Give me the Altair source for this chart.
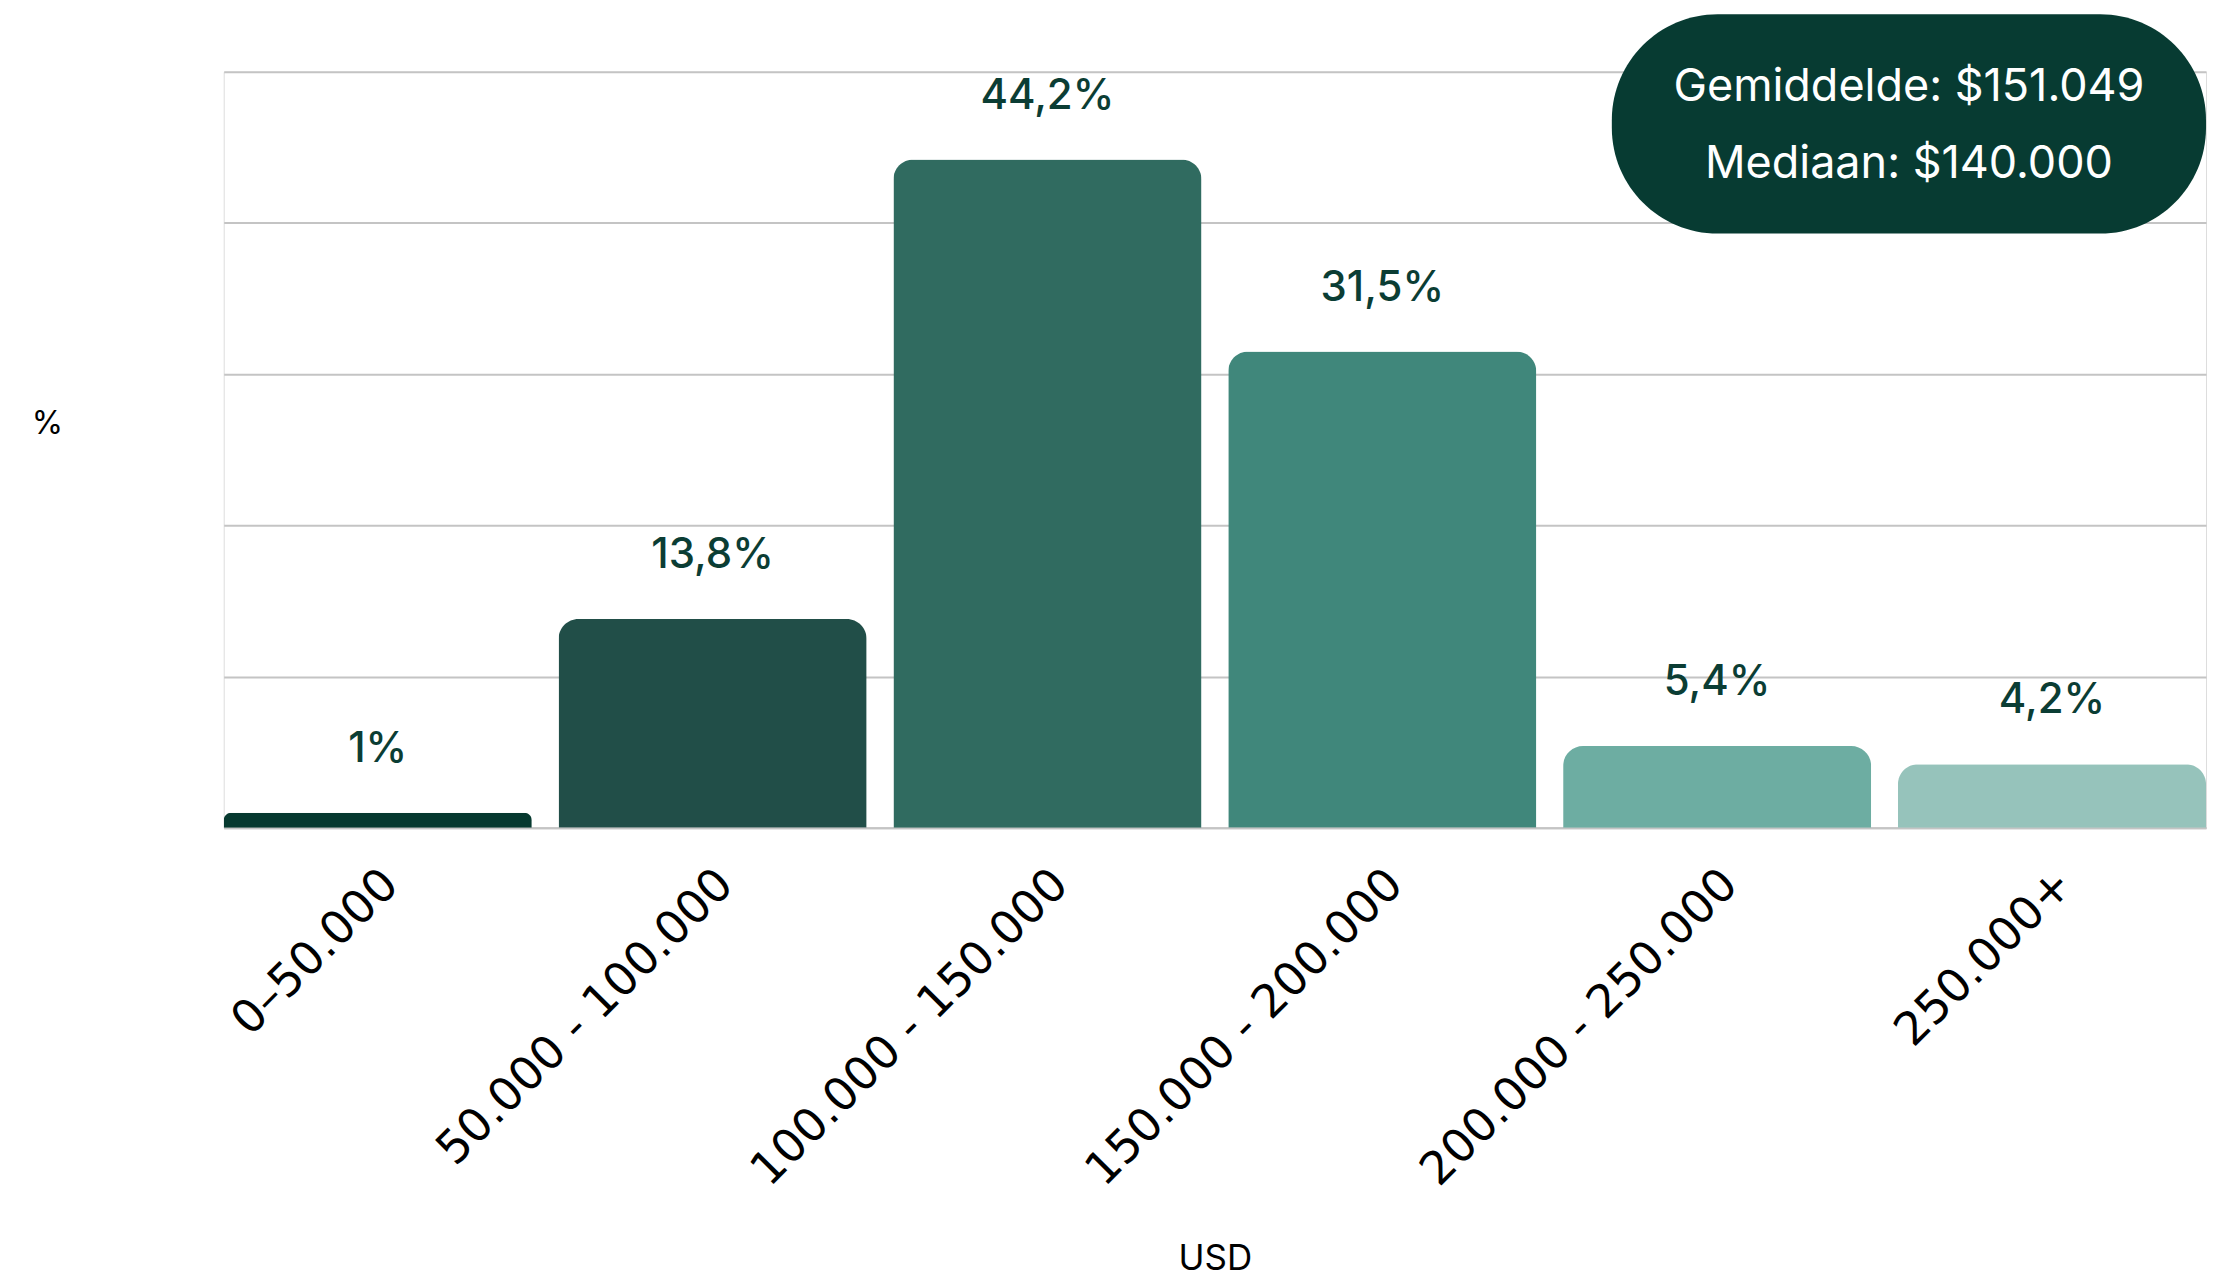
import altair as alt
import pandas as pd

categories = ["0–50.000", "50.000 - 100.000", "100.000 - 150.000",
              "150.000 - 200.000", "200.000 - 250.000", "250.000+"]
values = [1.0, 13.8, 44.2, 31.5, 5.4, 4.2]
value_labels = ["1%", "13,8%", "44,2%", "31,5%", "5,4%", "4,2%"]
bar_colors = ["#06392f", "#214e48", "#306b60", "#40877b", "#6dada2", "#96c3bb"]
y_ticks = [0, 10, 20, 30, 40, 50]

annotation_lines = ["Gemiddelde: $151.049", "Mediaan: $140.000"]
annotation_line_y = [49.0, 43.9]
annotation_box_top = 53.8
annotation_box_bottom = 39.3

df = pd.DataFrame({"cat": categories, "value": values, "label": value_labels})
box_df = pd.DataFrame({"top": [annotation_box_top], "bottom": [annotation_box_bottom]})
text_df = pd.DataFrame({"txt": annotation_lines, "y": annotation_line_y})

FONT = "Inter"
AXIS_FONT = "DejaVu Sans"
PLOT_W = 1985
PLOT_H = 757

x_enc = alt.X(
    "cat:N", sort=categories,
    scale=alt.Scale(paddingInner=0.08, paddingOuter=0),
    axis=alt.Axis(
        labelAngle=-45, labelAlign="right", labelBaseline="middle",
        labelFontSize=46, labelFont=AXIS_FONT, labelColor="#000000",
        labelPadding=49, labelOffset=13, labelLimit=0, ticks=False,
        domainColor="#c4c4c4", domainWidth=2,
        title="USD", titleFont=FONT, titleFontSize=35, titleFontWeight="normal",
        titleColor="#000000", titleY=431, titleBaseline="middle",
    ),
)
y_enc = alt.Y(
    "value:Q",
    scale=alt.Scale(domain=[0, 50], nice=False),
    axis=alt.Axis(
        values=y_ticks, labels=False, ticks=False, domain=False,
        grid=True, gridColor="#c4c4c4", gridWidth=2,
        title="%", titleAngle=0, titleX=-177, titleY=352,
        titleAlign="center", titleBaseline="middle",
        titleFont=FONT, titleFontSize=32, titleFontWeight="normal", titleColor="#000000",
    ),
)

base = alt.Chart(df)

bars = base.mark_bar(cornerRadiusTopLeft=20, cornerRadiusTopRight=20).encode(
    x=x_enc,
    y=y_enc,
    color=alt.Color("cat:N", scale=alt.Scale(domain=categories, range=bar_colors), legend=None),
)

labels = base.mark_text(
    font=FONT, fontSize=42, fontWeight=500, color="#0b3d34",
    baseline="bottom", dy=-42,
).encode(
    x=alt.X("cat:N", sort=categories),
    y=alt.Y("value:Q"),
    text="label:N",
)

box = alt.Chart(box_df).mark_rect(
    color="#073b32", cornerRadius=106, clip=False
).encode(
    x=alt.value(1390), x2=alt.value(PLOT_W),
    y=alt.Y("top:Q"), y2=alt.Y2("bottom:Q"),
)

box_text = alt.Chart(text_df).mark_text(
    font=FONT, fontSize=45, color="#ffffff", align="center", baseline="middle"
).encode(
    x=alt.value((1390 + PLOT_W) / 2),
    y=alt.Y("y:Q"),
    text="txt:N",
)

chart = alt.layer(bars, labels, box, box_text).properties(
    width=PLOT_W, height=PLOT_H,
    autosize=alt.AutoSizeParams(type="none"),
    padding={"left": 216, "top": 63, "right": 10, "bottom": 449},
).configure_view(stroke=None).configure(background="#ffffff")

chart.save("out.html", embed_options={"renderer": "svg", "actions": False})
